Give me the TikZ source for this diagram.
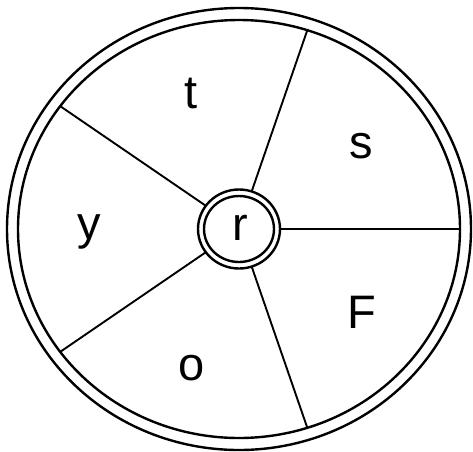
\documentclass[tikz,border=0pt]{standalone}
\usepackage{fontspec}
\setmainfont{Liberation Sans}

\begin{document}
\begin{tikzpicture}[x=1pt,y=1pt,
 rim/.style={draw,line width=2.4pt},
 spoke/.style={draw,line width=1.9pt},
 letter/.style={anchor=base,inner sep=0pt,font=\fontsize{47}{47}\selectfont}]
\useasboundingbox (-239,-222) rectangle (234,229);
\coordinate (hub) at (0,0);
% wheel rim and hub
\draw[rim] (hub) ellipse [x radius=232,y radius=221];
\draw[rim] (hub) ellipse [x radius=221,y radius=209];
\draw[rim] (hub) ellipse [x radius=41,y radius=39.5];
\draw[rim] (hub) ellipse [x radius=35,y radius=33];
% spokes
\foreach \a in {0,72,144,216,288}{
 \coordinate (in\a) at (\a:41 and 39.5);
 \coordinate (out\a) at (\a:221 and 209);
 \draw[spoke] (in\a)--(out\a);}
\node[letter] (r) at (1,-11) {r};
\node[letter] (t) at (-48,121) {t};
\node[letter] (s) at (122,71) {s};
\node[letter] (y) at (-150,-10) {y};
\node[letter] (F) at (123,-99) {F};
\node[letter] (o) at (-47,-151) {o};
\end{tikzpicture}
\end{document}
